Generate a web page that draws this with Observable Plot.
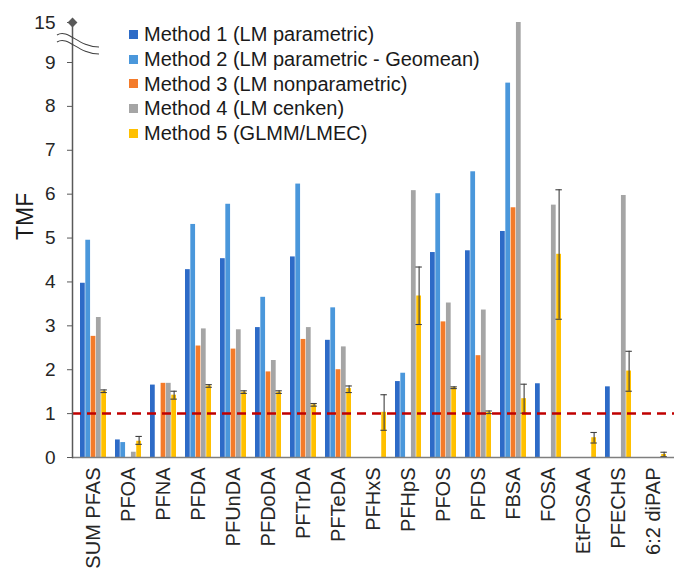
<!DOCTYPE html>
<html>
<head>
<meta charset="utf-8">
<script src="https://cdn.jsdelivr.net/npm/d3@7"></script>
<script src="https://cdn.jsdelivr.net/npm/@observablehq/plot@0.6"></script>
<style>
  html, body { margin: 0; padding: 0; background: #fff; }
  #wrap { position: relative; width: 674px; height: 573px; font-family: "Liberation Sans", Arial, sans-serif; }
  #legend { position: absolute; left: 129px; top: 22px; font-size: 20px; color: #1a1a1a; line-height: 24.8px; }
  #legend .row { display: flex; align-items: center; white-space: nowrap; }
  #legend .sw { width: 9px; height: 9px; margin-right: 6px; flex: none; }
</style>
</head>
<body>
<div id="wrap"><div id="legend"></div></div>
<script>
// ---- data ----
const categories = ["SUM PFAS","PFOA","PFNA","PFDA","PFUnDA","PFDoDA","PFTrDA","PFTeDA","PFHxS","PFHpS","PFOS","PFDS","FBSA","FOSA","EtFOSAA","PFECHS","6:2 diPAP"];
const methods = ["Method 1 (LM parametric)","Method 2 (LM parametric - Geomean)","Method 3 (LM nonparametric)","Method 4 (LM cenken)","Method 5 (GLMM/LMEC)"];
const method1 = [3.97,0.40,1.65,4.28,4.53,2.96,4.57,2.67,null,1.73,4.67,4.71,5.15,1.68,null,1.61,null];
const method2 = [4.95,0.34,null,5.31,5.77,3.65,6.23,3.41,null,1.92,6.01,6.51,8.53,null,null,null,null];
const method3 = [2.76,null,1.69,2.54,2.47,1.95,2.69,2.00,null,null,3.09,2.32,5.69,null,null,null,null];
const method4 = [3.19,0.12,1.69,2.93,2.91,2.21,2.96,2.52,null,6.08,3.52,3.36,15,5.75,null,5.97,null];
const method5 = [1.51,0.37,1.42,1.63,1.49,1.49,1.20,1.57,1.03,3.68,1.59,1.03,1.34,4.63,0.45,1.97,0.07];
const method5Low  = [1.48,0.30,1.33,1.60,1.46,1.46,1.17,1.48,0.62,3.03,1.57,1.00,1.01,3.15,0.33,1.51,0.02];
const method5High = [1.54,0.48,1.51,1.66,1.52,1.52,1.23,1.63,1.43,4.34,1.61,1.06,1.67,6.10,0.57,2.42,0.12];
const yTicks = [0,1,2,3,4,5,6,7,8,9,15];
const referenceLine = [1];
const yLabel = ["TMF"];
const colors = ["#2D6BC7","#4A97DB","#F47B2A","#A5A5A5","#FFC000"];

// ---- layout ----
const W = 674, H = 573, ML = 72, MR = 0;
const padIn = 0.25, padOut = 0.125;
const step = (W - ML - MR) / (categories.length - padIn + 2 * padOut);
const bw = step * (1 - padIn);
const barW = bw / methods.length;

const series = [method1, method2, method3, method4, method5];
const barMarks = series.map((vals, m) => {
  const rows = categories.map((c, i) => ({cat: c, value: vals[i]})).filter(d => d.value != null);
  return Plot.barY(rows, {
    x: "cat", y: "value", fill: colors[m],
    insetLeft: m * barW, insetRight: (methods.length - 1 - m) * barW
  });
});
const errRows = categories.map((c, i) => ({cat: c, lo: method5Low[i], hi: method5High[i]}));
const capHalf = 3.5;
const m5center = 4.5 * barW;

const chart = Plot.plot({
  width: W, height: H,
  marginLeft: ML, marginRight: MR, marginTop: 22, marginBottom: 116,
  style: {fontFamily: '"Liberation Sans", Arial, sans-serif', fontSize: "19px", color: "#262626", background: "#fff"},
  x: {type: "band", domain: categories, range: [ML, W - MR], paddingInner: padIn, paddingOuter: padOut},
  y: {type: "linear", domain: [0, 9, 15], range: [457, 62, 22]},
  marks: [
    ...barMarks,
    Plot.ruleX(errRows, {x: "cat", y1: "lo", y2: "hi", dx: m5center - bw / 2, stroke: "#404040", strokeWidth: 1.1}),
    Plot.tickY(errRows, {x: "cat", y: "hi", insetLeft: m5center - capHalf, insetRight: bw - m5center - capHalf, stroke: "#404040", strokeWidth: 1.1}),
    Plot.tickY(errRows, {x: "cat", y: "lo", insetLeft: m5center - capHalf, insetRight: bw - m5center - capHalf, stroke: "#404040", strokeWidth: 1.1}),
    Plot.ruleY([0], {stroke: "#7F7F7F", strokeWidth: 1.5}),
    Plot.ruleY(referenceLine, {stroke: "#C00000", strokeWidth: 2.5, strokeDasharray: "9,6"}),
    Plot.frame({anchor: "left", stroke: "#595959", strokeWidth: 1.5}),
    Plot.dot([15], {y: d => d, frameAnchor: "left", symbol: "diamond2", r: 3.5, fill: "#595959", stroke: "#595959"}),
    Plot.axisY({ticks: yTicks, tickSize: 5, tickPadding: 12, tickFormat: d => String(d), label: null, fontSize: 19, stroke: "#595959"}),
    Plot.text(yLabel, {text: d => d, frameAnchor: "left", dx: -47, rotate: -90, fontSize: 23, fill: "#1a1a1a"}),
    Plot.axisX({tickRotate: -90, tickSize: 0, tickPadding: 10, fontSize: 20, label: null})
  ]
});
document.getElementById("wrap").prepend(chart);

// axis break symbol (decoration on the y axis between 9 and 15)
const ys = chart.scale("y");
const yb = (ys.apply(9) + ys.apply(15)) / 2 + 1;
const svg = d3.select(chart);
[-4, 3].forEach(off => {
  const y0 = yb + off - 4;
  svg.append("path")
    .attr("d", `M${ML - 15},${y0} C${ML - 4},${y0 - 7} ${ML + 6},${y0 + 12} ${ML + 27},${y0 + 12}`)
    .attr("fill", "none").attr("stroke", "#404040").attr("stroke-width", 1.1);
});

// legend
const lg = d3.select("#legend");
methods.forEach((m, i) => {
  const r = lg.append("div").attr("class", "row");
  r.append("div").attr("class", "sw").style("background", colors[i]);
  r.append("span").text(m);
});
</script>
</body>
</html>
